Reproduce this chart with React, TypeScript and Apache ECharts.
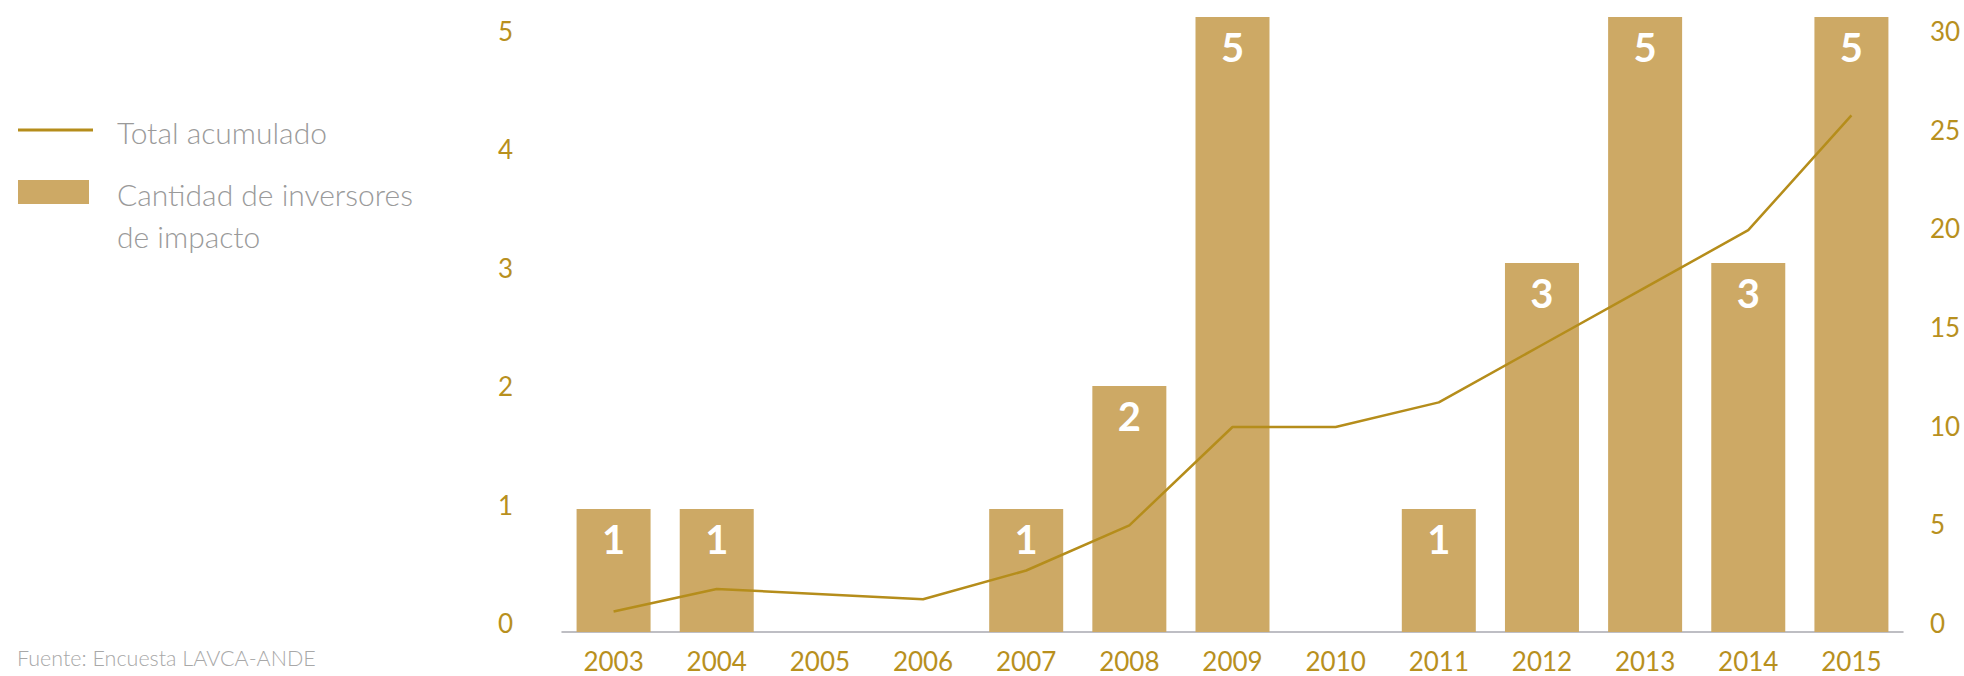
import React, { useEffect, useRef } from "react";
import * as echarts from "echarts";

const years = ["2003", "2004", "2005", "2006", "2007", "2008", "2009", "2010", "2011", "2012", "2013", "2014", "2015"];
const investors = [1, 1, 0, 0, 1, 2, 5, 0, 1, 3, 5, 3, 5];
const cumulative = [1, 2.1, null, 1.6, 3, 5.2, 10, 10, 11.2, 14, 16.8, 19.6, 25.2];
const leftTicks = { min: 0, max: 5, interval: 1 };
const rightTicks = { min: 0, max: 30, interval: 5 };
const legendLine = "Total acumulado";
const legendBar = "Cantidad de inversores\nde impacto";
const source = "Fuente: Encuesta LAVCA-ANDE";

const GOLD = "#b58d1b";
const BAR = "#cda965";
const LABEL = "#b8901e";
const FONT = "Lato, 'Noto Sans', sans-serif";

export default function App() {
  const ref = useRef<HTMLDivElement>(null);
  useEffect(() => {
    if (!ref.current) return;
    const chart = echarts.init(ref.current, undefined, { renderer: "svg" });
    const gridBars = { left: 562, right: 61, top: 17, bottom: 44 };
    const gridLabels = { left: 562, right: 61, top: 31, bottom: 53 };
    chart.setOption({
      animation: false,
      textStyle: { fontFamily: FONT },
      grid: [gridBars, gridLabels],
      xAxis: [
        {
          type: "category",
          gridIndex: 0,
          data: years,
          axisLine: { lineStyle: { color: "#a9a9b0", width: 1.5 } },
          axisTick: { show: false },
          axisLabel: { color: LABEL, fontSize: 26, margin: 16, fontFamily: FONT },
        },
        { type: "category", gridIndex: 1, data: years, show: false },
      ],
      yAxis: [
        { type: "value", gridIndex: 0, ...leftTicks, show: false, splitLine: { show: false } },
        { type: "value", gridIndex: 0, ...rightTicks, show: false, splitLine: { show: false } },
        {
          type: "value",
          gridIndex: 1,
          position: "left",
          ...leftTicks,
          axisLine: { show: false },
          axisTick: { show: false },
          splitLine: { show: false },
          axisLabel: { color: LABEL, fontSize: 26, margin: 49, fontFamily: FONT },
        },
        {
          type: "value",
          gridIndex: 1,
          position: "right",
          ...rightTicks,
          axisLine: { show: false },
          axisTick: { show: false },
          splitLine: { show: false },
          axisLabel: { color: LABEL, fontSize: 26, margin: 27, fontFamily: FONT },
        },
      ],
      series: [
        {
          type: "bar",
          name: "Cantidad de inversores de impacto",
          xAxisIndex: 0,
          yAxisIndex: 0,
          data: investors,
          barWidth: 74,
          itemStyle: { color: BAR },
          label: {
            show: true,
            position: "insideTop",
            distance: 10,
            color: "#ffffff",
            fontSize: 40,
            fontWeight: "bold",
            fontFamily: FONT,
            formatter: (p: any) => (p.value ? String(p.value) : ""),
          },
        },
        {
          type: "line",
          name: "Total acumulado",
          xAxisIndex: 0,
          yAxisIndex: 1,
          data: cumulative,
          connectNulls: true,
          showSymbol: false,
          symbol: "none",
          lineStyle: { color: GOLD, width: 2.5 },
          z: 5,
        },
      ],
      graphic: [
        { type: "line", shape: { x1: 18, y1: 130, x2: 93, y2: 130 }, style: { stroke: GOLD, lineWidth: 3 } },
        {
          type: "text",
          x: 117,
          y: 132,
          style: { text: legendLine, fill: "#9a9a9a", fontSize: 30, fontWeight: 300, fontFamily: FONT, verticalAlign: "middle" },
        },
        { type: "rect", shape: { x: 18, y: 180, width: 71, height: 24 }, style: { fill: BAR } },
        {
          type: "text",
          x: 117,
          y: 173,
          style: { text: legendBar, fill: "#9a9a9a", fontSize: 30, fontWeight: 300, lineHeight: 42, fontFamily: FONT, verticalAlign: "top" },
        },
        {
          type: "text",
          x: 17,
          y: 658,
          style: { text: source, fill: "#a8a8a8", fontSize: 21.5, fontWeight: 300, fontFamily: FONT, verticalAlign: "middle" },
        },
      ],
    });
    return () => chart.dispose();
  }, []);
  return <div ref={ref} style={{ position: "fixed", left: 0, top: 0, width: 1964, height: 676, background: "#fff" }} />;
}
